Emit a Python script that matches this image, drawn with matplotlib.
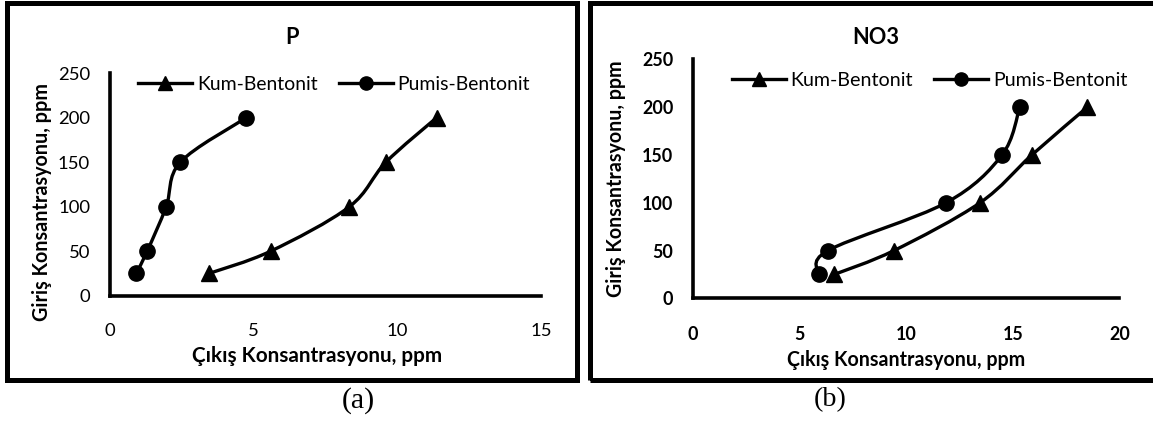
import numpy as np
import matplotlib
matplotlib.use("Agg")
import matplotlib.pyplot as plt
from matplotlib.path import Path
from matplotlib.patches import PathPatch, Rectangle
from matplotlib.lines import Line2D

# ---------------- data ----------------
y_inlet = [25, 50, 100, 150, 200]

# Panel (a): P
p_kum_x = [3.46, 5.60, 8.34, 9.61, 11.37]
p_pumis_x = [0.93, 1.31, 1.97, 2.46, 4.75]

# Panel (b): NO3
no3_kum_x = [6.64, 9.44, 13.47, 15.90, 18.50]
no3_pumis_x = [5.92, 6.34, 11.88, 14.50, 15.33]

series_names = ["Kum-Bentonit", "Pumis-Bentonit"]
titles = ["P", "NO3"]
panel_labels = ["(a)", "(b)"]
xlabel = "Çıkış Konsantrasyonu, ppm"
ylabel = "Giriş Konsantrasyonu, ppm"
xticks_a = [0, 5, 10, 15]
xticks_b = [0, 5, 10, 15, 20]
yticks = [0, 50, 100, 150, 200, 250]

# ---------------- style ----------------
W, H = 1153, 421
FONT = "Lato"
plt.rcParams["font.family"] = [FONT, "DejaVu Sans"]

fig = plt.figure(figsize=(W / 100, H / 100), dpi=100)
renderer = fig.canvas.get_renderer()


def fx(px):
    return px / W


def fy(py):
    return 1 - py / H


def fit(t, target, vertical=False):
    bb = t.get_window_extent(renderer)
    size = bb.height if vertical else bb.width
    if size > 0:
        t.set_fontsize(t.get_fontsize() * target / size)
    return t.get_fontsize()


def smooth(ax, xs, ys, lw=2.4):
    pts = ax.transData.transform(np.column_stack([xs, ys]))
    n = len(pts)
    verts = [pts[0]]
    codes = [Path.MOVETO]
    for i in range(n - 1):
        p0 = pts[i - 1] if i > 0 else pts[i]
        p1 = pts[i]
        p2 = pts[i + 1]
        p3 = pts[i + 2] if i + 2 < n else pts[i + 1]
        c1 = p1 + (p2 - p0) / 6.0
        c2 = p2 - (p3 - p1) / 6.0
        verts += [c1, c2, p2]
        codes += [Path.CURVE4] * 3
    dv = ax.transData.inverted().transform(np.array(verts))
    ax.add_patch(PathPatch(Path(dv, codes), fill=False, lw=lw, ec="black",
                           capstyle="round", joinstyle="round", zorder=3))


def panel(rect, xmax, xticks, kum_x, pumis_x, bold_ticks, title, title_xy,
          title_fs, ylab_xy, ylab_h, xlab_xy, xlab_w, leg_xy, leg_w,
          tick_w, plabel, plabel_xy):
    ax = fig.add_axes(rect)
    ax.set_xlim(0, xmax)
    ax.set_ylim(0, 250)
    for s in ["top", "right"]:
        ax.spines[s].set_visible(False)
    for s in ["left", "bottom"]:
        ax.spines[s].set_linewidth(2.6)
        ax.spines[s].set_color("black")
    ax.set_xticks(xticks)
    ax.set_yticks(yticks)
    tw = "bold" if bold_ticks else "normal"

    # tick label size fitted to the width of "250"
    probe = fig.text(0, 0, "250", fontsize=13, fontweight=tw)
    tfs = fit(probe, tick_w)
    probe.remove()

    ax.tick_params(length=0, labelsize=tfs, colors="black")
    ax.tick_params(axis="x", pad=20)
    ax.tick_params(axis="y", pad=14)
    for lab in ax.get_xticklabels() + ax.get_yticklabels():
        lab.set_fontweight(tw)
    ax.patch.set_alpha(0)

    smooth(ax, kum_x, y_inlet)
    smooth(ax, pumis_x, y_inlet)
    ax.plot(kum_x, y_inlet, ls="none", marker="^", ms=12, color="black",
            zorder=4, clip_on=False)
    ax.plot(pumis_x, y_inlet, ls="none", marker="o", ms=11, color="black",
            zorder=4, clip_on=False)

    probe = fig.text(0, 0, series_names[1], fontsize=13)
    lfs = fit(probe, leg_w)
    probe.remove()
    em = lfs * 100 / 72.0
    handles = [
        Line2D([], [], color="black", lw=2.4, marker="^", ms=10),
        Line2D([], [], color="black", lw=2.4, marker="o", ms=9.5),
    ]
    fig.legend(handles, series_names, loc="center left",
               bbox_to_anchor=(fx(leg_xy[0]), fy(leg_xy[1])),
               ncol=2, frameon=False, fontsize=lfs, borderpad=0,
               borderaxespad=0, handlelength=54 / em,
               handletextpad=5 / em, columnspacing=21 / em)

    fig.text(fx(title_xy[0]), fy(title_xy[1]), title, ha="center",
             va="center", fontsize=title_fs, fontweight="bold")
    t = fig.text(fx(ylab_xy[0]), fy(ylab_xy[1]), ylabel, ha="center",
                 va="center", rotation=90, fontsize=13, fontweight="bold")
    fit(t, ylab_h, vertical=True)
    t = fig.text(fx(xlab_xy[0]), fy(xlab_xy[1]), xlabel, ha="center",
                 va="center", fontsize=13, fontweight="bold")
    fit(t, xlab_w)
    t = fig.text(fx(plabel_xy[0]), fy(plabel_xy[1]), plabel, ha="center",
                 va="center", fontsize=19, family="Liberation Serif")
    fit(t, 33)
    return ax


# title size derived from "NO3" width in the reference
probe = fig.text(0, 0, titles[1], fontsize=15, fontweight="bold")
title_fs = fit(probe, 47)
probe.remove()

# left panel
panel([fx(109.5), fy(295.7), (540.9 - 109.5) / W, (295.7 - 73.3) / H],
      15, xticks_a, p_kum_x, p_pumis_x, False, titles[0], (292, 38),
      title_fs, (42.5, 202), 237, (317, 356), 249, (138, 84), 132, 32,
      panel_labels[0], (358, 401))

# right panel
panel([fx(692.7), fy(298.3), (1119.4 - 692.7) / W, (298.3 - 59.3) / H],
      20, xticks_b, no3_kum_x, no3_pumis_x, True, titles[1], (876, 38),
      title_fs, (616.5, 179), 235, (906, 360), 237, (731.7, 80), 134, 31,
      panel_labels[1], (830, 400))

# frames around the panels
fig.add_artist(Rectangle((fx(7), fy(379.5)), (576.5 - 7) / W, (379.5 - 3) / H,
                         transform=fig.transFigure, fill=False, lw=3.6,
                         ec="black"))
fig.add_artist(Rectangle((fx(589.5), fy(379.5)), (1165 - 589.5) / W,
                         (379.5 - 3) / H, transform=fig.transFigure,
                         fill=False, lw=3.6, ec="black"))

fig.savefig("out.png", dpi=100)
